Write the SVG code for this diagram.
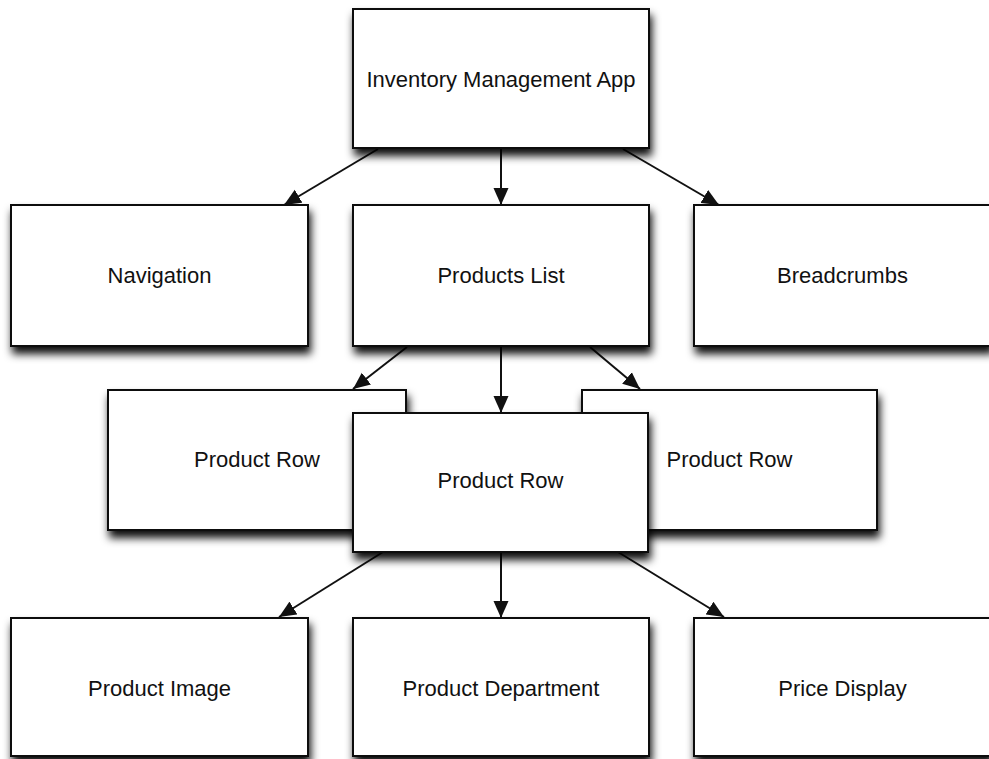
<svg xmlns="http://www.w3.org/2000/svg" width="989" height="759" viewBox="0 0 989 759">
<style>
.box{fill:#fff;stroke:#111;stroke-width:2;filter:url(#sh)}
.lbl{font-family:"Liberation Sans",Arial,Helvetica,sans-serif;font-size:22px;fill:#111;text-anchor:middle}
.conn{stroke:#111;stroke-width:2;fill:none;marker-end:url(#ah)}
</style>
<defs>
<filter id="sh" x="-10%" y="-10%" width="125%" height="145%">
<feDropShadow dx="2" dy="7" stdDeviation="4.5" flood-color="#000" flood-opacity="0.95"/>
</filter>
<marker id="ah" markerUnits="userSpaceOnUse" markerWidth="20" markerHeight="16" refX="17" refY="8" orient="auto">
<path d="M0,0.5 L17,8 L0,15.5 Z" fill="#111"/>
</marker>
</defs>
<rect width="989" height="759" fill="#fff"/>
<g id="connectors">
<line class="conn" x1="378" y1="149" x2="284" y2="205"/>
<line class="conn" x1="501" y1="149" x2="501" y2="205"/>
<line class="conn" x1="623" y1="149" x2="719" y2="205"/>
<line class="conn" x1="407" y1="347" x2="353" y2="389"/>
<line class="conn" x1="501" y1="347" x2="501" y2="413"/>
<line class="conn" x1="590" y1="347" x2="640" y2="389"/>
<line class="conn" x1="383" y1="552" x2="279" y2="617"/>
<line class="conn" x1="501" y1="552" x2="501" y2="618"/>
<line class="conn" x1="618" y1="552" x2="724" y2="617"/>
</g>
<g id="app"><rect class="box" x="353" y="9" width="296" height="139"/><text class="lbl" x="501" y="87">Inventory Management App</text></g>
<g id="navigation"><rect class="box" x="11" y="205" width="297" height="141"/><text class="lbl" x="159.5" y="283">Navigation</text></g>
<g id="products-list"><rect class="box" x="353" y="205" width="296" height="141"/><text class="lbl" x="501" y="283">Products List</text></g>
<g id="breadcrumbs"><rect class="box" x="694" y="205" width="297" height="141"/><text class="lbl" x="842.5" y="283">Breadcrumbs</text></g>
<g id="product-row-left"><rect class="box" x="108" y="390" width="298" height="140"/><text class="lbl" x="257" y="467">Product Row</text></g>
<g id="product-row-right"><rect class="box" x="582" y="390" width="295" height="140"/><text class="lbl" x="729.5" y="467">Product Row</text></g>
<g id="product-row-center"><rect class="box" x="353" y="413" width="295" height="139"/><text class="lbl" x="500.5" y="488">Product Row</text></g>
<g id="product-image"><rect class="box" x="11" y="618" width="297" height="138"/><text class="lbl" x="159.5" y="696">Product Image</text></g>
<g id="product-department"><rect class="box" x="353" y="618" width="296" height="138"/><text class="lbl" x="501" y="696">Product Department</text></g>
<g id="price-display"><rect class="box" x="694" y="618" width="297" height="138"/><text class="lbl" x="842.5" y="696">Price Display</text></g>
</svg>
